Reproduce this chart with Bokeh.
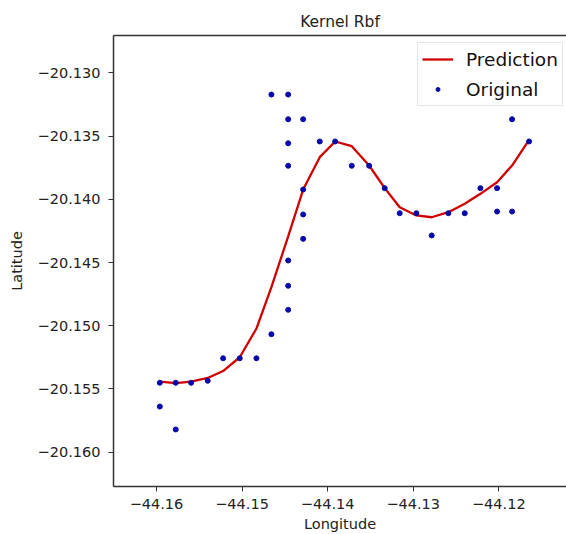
from bokeh.plotting import figure
from bokeh.models import FixedTicker, Range1d, LinearAxis
from bokeh.embed import file_html
from bokeh.resources import INLINE

# Original observations
orig_lon = [-44.15961, -44.15961, -44.15775, -44.15775, -44.15595, -44.15401,
            -44.15221, -44.15027, -44.14832, -44.14657, -44.14657, -44.14461,
            -44.14461, -44.14461, -44.14461, -44.14461, -44.14461, -44.14461,
            -44.14286, -44.14286, -44.14286, -44.14286, -44.14092, -44.13912,
            -44.13718, -44.13515, -44.13333, -44.13158, -44.12963, -44.12784,
            -44.12589, -44.12398, -44.12215, -44.12020, -44.12020, -44.11845,
            -44.11845, -44.11646]
orig_lat = [-20.15451, -20.15639, -20.15451, -20.15820, -20.15451, -20.15435,
            -20.15257, -20.15257, -20.15257, -20.15067, -20.13172, -20.13172,
            -20.13367, -20.13557, -20.13735, -20.14484, -20.14684, -20.14874,
            -20.13367, -20.13923, -20.14120, -20.14313, -20.13543, -20.13543,
            -20.13735, -20.13735, -20.13912, -20.14110, -20.14110, -20.14286,
            -20.14110, -20.14110, -20.13912, -20.13912, -20.14097, -20.14097,
            -20.13367, -20.13543]

# Prediction (Kernel RBF)
pred_lon = [-44.15961, -44.15775, -44.15595, -44.15401, -44.15221, -44.15027,
            -44.14832, -44.14657, -44.14461, -44.14286, -44.14092, -44.13912,
            -44.13718, -44.13515, -44.13333, -44.13158, -44.12963, -44.12784,
            -44.12589, -44.12398, -44.12215, -44.12020, -44.11845, -44.11646]
pred_lat = [-20.15441, -20.15453, -20.15441, -20.15413, -20.15358, -20.15249,
            -20.15022, -20.14694, -20.14294, -20.13923, -20.13667, -20.13543,
            -20.13580, -20.13733, -20.13912, -20.14063, -20.14128, -20.14142,
            -20.14102, -20.14036, -20.13957, -20.13865, -20.13733, -20.13530]

x_ticks = [-44.16, -44.15, -44.14, -44.13, -44.12]
y_ticks = [-20.130, -20.135, -20.140, -20.145, -20.150, -20.155, -20.160]

FONT = "DejaVu Sans"
AX = "#333333"

p = figure(width=566, height=534, output_backend="svg", toolbar_location=None,
           title="Kernel Rbf",
           x_range=Range1d(-44.16502, -44.11209),
           y_range=Range1d(-20.16271, -20.12705),
           min_border_left=113, min_border_right=0, min_border_top=35,
           min_border_bottom=48)

p.line(pred_lon, pred_lat, line_color="#d00000", line_width=2.3, legend_label="Prediction")
p.scatter(orig_lon, orig_lat, marker="circle", size=5, fill_color="#0808a8",
          line_color="#0808a8", legend_label="Original")

p.title.align = "center"
p.title.text_font = FONT
p.title.text_font_size = "15.5px"
p.title.text_font_style = "normal"
p.title.text_color = "#222222"
p.title.offset = -5

p.xgrid.visible = False
p.ygrid.visible = False
p.outline_line_color = None

xax = p.below[0]
yax = p.left[0]

for ax, ticks, fmt in ((xax, x_ticks, "{:.2f}"), (yax, y_ticks, "{:.3f}")):
    ax.ticker = FixedTicker(ticks=ticks)
    ax.major_label_overrides = {t: fmt.format(t).replace("-", "\u2212") for t in ticks}
    ax.minor_tick_line_color = None
    ax.major_tick_in = 0
    ax.major_tick_out = 5
    ax.major_tick_line_color = AX
    ax.axis_line_color = AX
    ax.axis_line_width = 1.5
    ax.major_label_text_font = FONT
    ax.major_label_text_font_size = "14.5px"
    ax.major_label_text_color = "#222222"
    ax.axis_label_text_font = FONT
    ax.axis_label_text_font_size = "14.5px"
    ax.axis_label_text_font_style = "normal"
    ax.axis_label_text_color = "#222222"

yax.major_label_standoff = 8
xax.major_label_standoff = 7
xax.axis_label = "Longitude"
yax.axis_label = "Latitude"
xax.axis_label_standoff = 4
yax.axis_label_standoff = 10

# top border of the axes box (the right side runs off the picture)
top = LinearAxis(ticker=FixedTicker(ticks=[]), major_tick_line_color=None,
                 minor_tick_line_color=None, major_tick_out=0, major_tick_in=0,
                 major_label_standoff=0, axis_line_color=AX, axis_line_width=1.5)
p.add_layout(top, "above")

p.legend.location = (304, 380)
p.legend.label_text_font = FONT
p.legend.label_text_font_size = "18.5px"
p.legend.label_text_color = "#111111"
p.legend.label_standoff = 13
p.legend.border_line_color = "#cccccc"
p.legend.border_line_width = 1
p.legend.background_fill_alpha = 0.9
p.legend.glyph_width = 31
p.legend.glyph_height = 10
p.legend.label_height = 24
p.legend.spacing = 6
p.legend.padding = 4
p.legend.margin = 0

open("out.html", "w").write(file_html(p, INLINE))
